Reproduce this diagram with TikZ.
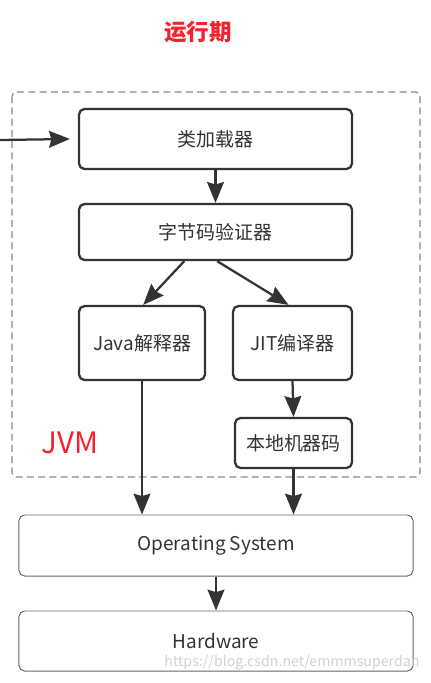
\documentclass[tikz,border=0pt]{standalone}
\usepackage{fontspec}
\setmainfont{Noto Sans CJK SC}
\usetikzlibrary{positioning,arrows.meta,calc}

\definecolor{lineGray}{HTML}{333333}
\definecolor{softGray}{HTML}{666666}
\definecolor{frameGray}{HTML}{888888}
\definecolor{titleRed}{HTML}{F5222D}

\begin{document}
\begin{tikzpicture}[
    x=0.025cm, y=-0.025cm,
    font=\fontsize{13.5}{16}\selectfont,
    >={Stealth[length=5.2mm, width=4.2mm, inset=0.6mm]},
    blk/.style={draw=lineGray, line width=1.6pt, rounded corners=4pt, fill=white,
                align=center, text=black!80, inner sep=2mm},
    osblk/.style={blk, draw=softGray, line width=0.7pt},
    sig/.style={->, line width=1.6pt, draw=lineGray, fill=lineGray},
    frame/.style={draw=frameGray, line width=0.8pt, dash pattern=on 5pt off 3pt,
                  rounded corners=3pt},
    redlab/.style={text=titleRed},
    wmark/.style={text=black!18, font=\fontsize{10.1}{12}\selectfont},
  ]
  \useasboundingbox (0,0) rectangle (431,683);

  % ============ Titolo ============
  \node[redlab, font=\fontsize{16}{19}\selectfont\bfseries] (title) at (198,32) {运行期};

  % ============ JVM ============
  \draw[frame] (12,92) rectangle (420,477);
  \node[redlab, font=\fontsize{21}{25}\selectfont] (jvm) at (70,443) {JVM};

  \node[blk, minimum width=6.825cm, minimum height=1.5cm] (loader) at (215.5,139) {类加载器};
  \node[blk, minimum width=6.825cm, minimum height=1.4cm] (verif) at (215.5,232) {字节码验证器};
  \node[blk, minimum width=3.15cm, minimum height=1.85cm] (interp) at (142,343) {Java解释器};
  \node[blk, minimum width=2.975cm, minimum height=1.85cm] (jit) at (292.5,343) {JIT编译器};
  \node[blk, minimum width=2.925cm, minimum height=1.25cm] (native) at (293.5,443) {本地机器码};

  \coordinate (entry) at (0,140);
  \draw[sig] (entry) -- ([xshift=-0.2cm]loader.west);
  \draw[sig] (loader.south) -- (verif.north);
  \draw[sig] ([xshift=-0.78cm]verif.south) -- ([xshift=0.03cm]interp.north);
  \draw[sig] ([xshift=0.04cm]verif.south) -- ([xshift=-0.1cm]jit.north);
  \draw[sig] (jit.south) -- (native.north);

  % ============ Sistema e hardware ============
  \node[osblk, minimum width=9.85cm, minimum height=1.525cm] (os) at (216,545.5) {Operating System};
  \node[osblk, minimum width=9.85cm, minimum height=1.5cm] (hw) at (216,641) {Hardware};

  \draw[sig] (interp.south) -- (interp.south |- os.north);
  \draw[sig] (native.south) -- (native.south |- os.north);
  \draw[sig] (os.south) -- (hw.north);

  \node[wmark] (wm) at (292,663) {https://blog.csdn.net/emmmsuperdan};

\end{tikzpicture}
\end{document}
